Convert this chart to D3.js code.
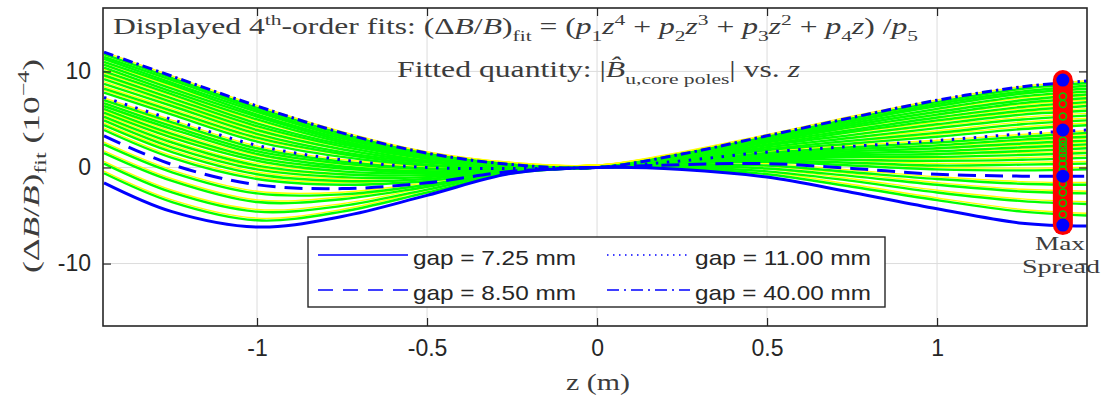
<!DOCTYPE html>
<html><head><meta charset="utf-8">
<script src="https://cdn.jsdelivr.net/npm/d3@7"></script>
<style>
html,body{margin:0;padding:0;background:#fff;}
svg{display:block;}
</style></head>
<body><svg id="c" width="1104" height="402"></svg>
<script>
// ---------- data ----------
const zSamples = [-1.45, -1.25, -1.0, -0.75, -0.5, -0.25, 0, 0.25, 0.5, 0.75, 1.0, 1.25, 1.44];
const xTicks = [-1, -0.5, 0, 0.5, 1];
const xTickLabels = ["-1", "-0.5", "0", "0.5", "1"];
const yTicks = [-10, 0, 10];
const yTickLabels = ["-10", "0", "10"];

const highlightGaps = ["7.25", "8.50", "11.00", "40.00"];
const gap725 = [-1.6, -4.6, -6.2, -5.1, -2.9, -0.6, 0, -0.2, -1.0, -2.6, -4.3, -5.8, -6.1];
const gap850 = [3.3, 0.3, -1.8, -2.2, -1.6, -0.4, 0, 0.3, 0.4, -0.1, -0.7, -0.9, -0.9];
const gap1100 = [7.3, 5.0, 2.3, 0.8, 0.0, -0.1, 0, 0.7, 1.6, 2.2, 2.8, 3.5, 3.9];
const gap4000 = [12.0, 9.5, 6.4, 3.6, 1.5, 0.3, 0, 1.4, 3.3, 5.2, 7.0, 8.4, 9.0];

// other gaps of the family (green fits)
const familyCurves = [
  [-0.6, -3.6, -5.5, -4.6, -2.6, -0.6, 0, -0.1, -0.7, -2.0, -3.4, -4.6, -5.0],
  [0.4, -2.6, -4.6, -4.0, -2.3, -0.5, 0, 0.0, -0.4, -1.4, -2.6, -3.5, -3.8],
  [1.5, -1.4, -3.6, -3.3, -2.0, -0.5, 0, 0.1, -0.1, -0.9, -1.8, -2.5, -2.7],
  [2.4, -0.5, -2.7, -2.8, -1.8, -0.4, 0, 0.2, 0.2, -0.5, -1.2, -1.7, -1.8],
  [3.9, 1.0, -1.2, -1.8, -1.4, -0.4, 0, 0.4, 0.6, 0.2, -0.2, -0.3, -0.2],
  [4.4, 1.6, -0.7, -1.4, -1.2, -0.3, 0, 0.4, 0.7, 0.5, 0.2, 0.3, 0.4],
  [4.9, 2.1, -0.2, -1.0, -1.0, -0.3, 0, 0.5, 0.9, 0.8, 0.7, 0.8, 1.0],
  [5.3, 2.6, 0.2, -0.7, -0.8, -0.3, 0, 0.5, 1.0, 1.1, 1.1, 1.3, 1.5],
  [5.7, 3.1, 0.7, -0.4, -0.6, -0.2, 0, 0.5, 1.1, 1.3, 1.4, 1.7, 2.0],
  [6.1, 3.5, 1.0, -0.1, -0.5, -0.2, 0, 0.6, 1.2, 1.5, 1.7, 2.1, 2.4],
  [6.4, 4.0, 1.4, 0.1, -0.4, -0.2, 0, 0.6, 1.3, 1.7, 2.0, 2.5, 2.8],
  [6.7, 4.3, 1.7, 0.4, -0.2, -0.1, 0, 0.6, 1.4, 1.9, 2.3, 2.9, 3.2],
  [7.0, 4.7, 2.0, 0.6, -0.1, -0.1, 0, 0.7, 1.5, 2.1, 2.6, 3.2, 3.6],
  [7.8, 5.5, 2.7, 1.1, 0.2, -0.1, 0, 0.8, 1.8, 2.5, 3.2, 4.0, 4.4],
  [8.2, 5.9, 3.1, 1.4, 0.3, 0.0, 0, 0.8, 1.9, 2.8, 3.6, 4.5, 4.9],
  [8.7, 6.4, 3.5, 1.6, 0.5, 0.0, 0, 0.9, 2.1, 3.1, 4.1, 5.0, 5.4],
  [9.2, 6.8, 3.9, 1.9, 0.6, 0.1, 0, 1.0, 2.3, 3.4, 4.5, 5.5, 5.9],
  [9.6, 7.2, 4.3, 2.2, 0.7, 0.1, 0, 1.0, 2.4, 3.7, 4.9, 5.9, 6.4],
  [10.0, 7.6, 4.6, 2.4, 0.9, 0.1, 0, 1.1, 2.6, 3.9, 5.2, 6.3, 6.8],
  [10.4, 7.9, 5.0, 2.6, 1.0, 0.2, 0, 1.2, 2.7, 4.2, 5.5, 6.7, 7.2],
  [10.7, 8.2, 5.3, 2.8, 1.1, 0.2, 0, 1.2, 2.8, 4.4, 5.8, 7.0, 7.6],
  [11.0, 8.6, 5.5, 3.0, 1.2, 0.2, 0, 1.3, 2.9, 4.6, 6.1, 7.4, 7.9],
  [11.3, 8.8, 5.8, 3.2, 1.3, 0.2, 0, 1.3, 3.0, 4.8, 6.4, 7.7, 8.2],
  [11.5, 9.1, 6.0, 3.3, 1.4, 0.3, 0, 1.3, 3.1, 4.9, 6.6, 7.9, 8.5],
  [11.8, 9.3, 6.2, 3.5, 1.4, 0.3, 0, 1.4, 3.2, 5.1, 6.8, 8.2, 8.8]
];

const spreadZ = 1.37;
const spreadValues = [9.1, 3.9, -0.9, -6.0];
const spreadFamily = [-4.9, -3.7, -2.6, -1.7, -0.2, 0.4, 1.0, 1.5, 2.0, 2.4, 2.8, 5.3, 6.6, 7.4];

// ---------- layout ----------
const svg = d3.select("#c");
const L = 103, R = 1087, T = 8, B = 326;
const x = d3.scaleLinear().domain([-1.453, 1.441]).range([L, R]);
const y = d3.scaleLinear().domain([-16.5, 16.6]).range([B, T]);
const serif = "'Liberation Serif', 'DejaVu Serif', serif";
const sans = "'Liberation Sans', Arial, sans-serif";
const txt = "#262626";
const stxt = "#3c3c3c";

svg.append("rect").attr("width", 1104).attr("height", 402).attr("fill", "#fff");
svg.append("defs").append("clipPath").attr("id", "clip")
  .append("rect").attr("x", L).attr("y", T).attr("width", R - L).attr("height", B - T);

// grid
const grid = svg.append("g").attr("stroke", "#dcdcdc").attr("stroke-width", 1);
xTicks.forEach(v => grid.append("line").attr("x1", x(v)).attr("x2", x(v)).attr("y1", T).attr("y2", B));
yTicks.forEach(v => grid.append("line").attr("y1", y(v)).attr("y2", y(v)).attr("x1", L).attr("x2", R));

// curves
const line = d3.line().x((d, i) => x(zSamples[i])).y(d => y(d)).curve(d3.curveCatmullRom.alpha(0.5));
const plot = svg.append("g").attr("clip-path", "url(#clip)");
familyCurves.forEach(c => plot.append("path").attr("d", line(c)).attr("fill", "none")
  .attr("stroke", "#ffff00").attr("stroke-width", 1.4).attr("transform", "translate(0,-2.2)"));
familyCurves.forEach(c => plot.append("path").attr("d", line(c)).attr("fill", "none")
  .attr("stroke", "#00ff00").attr("stroke-width", 2.4));

const styles = [
  {data: gap725, dash: null},
  {data: gap850, dash: "18,9"},
  {data: gap1100, dash: "2.5,8.5"},
  {data: gap4000, dash: "10,4,2.5,4"}
];
styles.forEach(s => plot.append("path").attr("d", line(s.data)).attr("fill", "none")
  .attr("stroke", "#0000ff").attr("stroke-width", 3).attr("stroke-dasharray", s.dash));

// max spread marker
const sx = x(spreadZ);
svg.append("line").attr("x1", sx).attr("x2", sx)
  .attr("y1", y(d3.max(spreadValues))).attr("y2", y(d3.min(spreadValues)))
  .attr("stroke", "#ff0000").attr("stroke-width", 20).attr("stroke-linecap", "round");
spreadFamily.forEach(v => svg.append("circle").attr("cx", sx).attr("cy", y(v)).attr("r", 3.5)
  .attr("fill", "none").attr("stroke", "#00cc00").attr("stroke-width", 1.5));
spreadValues.forEach(v => svg.append("circle").attr("cx", sx).attr("cy", y(v)).attr("r", 6.5)
  .attr("fill", "#0000ff"));
svg.append("text").attr("x", 1060).attr("y", 250).attr("font-family", serif).attr("font-size", 19)
  .attr("fill", stxt).attr("text-anchor", "middle").attr("textLength", 50)
  .attr("lengthAdjust", "spacingAndGlyphs").text("Max");
svg.append("text").attr("x", 1061).attr("y", 273).attr("font-family", serif).attr("font-size", 19)
  .attr("fill", stxt).attr("text-anchor", "middle").attr("textLength", 78)
  .attr("lengthAdjust", "spacingAndGlyphs").text("Spread");

// axes
const ax = svg.append("g").attr("font-family", sans);
const xb = ax.append("g").attr("transform", `translate(0,${B})`)
  .call(d3.axisBottom(x).tickValues(xTicks).tickSize(-8).tickPadding(14).tickFormat((d, i) => xTickLabels[i]));
const xt = ax.append("g").attr("transform", `translate(0,${T})`)
  .call(d3.axisTop(x).tickValues(xTicks).tickSize(-8).tickFormat(""));
const yl = ax.append("g").attr("transform", `translate(${L},0)`)
  .call(d3.axisLeft(y).tickValues(yTicks).tickSize(-8).tickPadding(12).tickFormat((d, i) => yTickLabels[i]));
const yr = ax.append("g").attr("transform", `translate(${R},0)`)
  .call(d3.axisRight(y).tickValues(yTicks).tickSize(-8).tickFormat(""));
[xb, xt, yl, yr].forEach(g => {
  g.select(".domain").remove();
  g.selectAll(".tick line").attr("stroke", txt).attr("stroke-width", 1.2);
  g.selectAll("text").attr("font-size", 23).attr("fill", txt).attr("font-family", sans);
});
svg.append("rect").attr("x", L).attr("y", T).attr("width", R - L).attr("height", B - T)
  .attr("fill", "none").attr("stroke", txt).attr("stroke-width", 1.6);

// rich text helper
function rich(sel, segs, base) {
  let cur = 0;
  segs.forEach(s => {
    const [t, p, it] = s;
    const off = p === "sub" ? 0.3 * base : p === "sup" ? -0.4 * base : 0;
    const ts = sel.append("tspan").text(t).attr("dy", off - cur);
    cur = off;
    if (p === "sub" || p === "sup") ts.attr("font-size", base * 0.68);
    if (it) ts.attr("font-style", "italic");
  });
}

// title
const t1 = svg.append("text").attr("x", 113).attr("y", 34).attr("font-family", serif)
  .attr("font-size", 23).attr("fill", stxt).attr("textLength", 805).attr("lengthAdjust", "spacingAndGlyphs");
rich(t1, [["Displayed 4"], ["th", "sup"], ["-order fits:  (Δ"], ["B", 0, 1], ["/"], ["B", 0, 1], [")"],
  ["fit", "sub"], [" = ("], ["p", 0, 1], ["1", "sub"], ["z", 0, 1], ["4", "sup"], [" + "], ["p", 0, 1], ["2", "sub"],
  ["z", 0, 1], ["3", "sup"], [" + "], ["p", 0, 1], ["3", "sub"], ["z", 0, 1], ["2", "sup"], [" + "], ["p", 0, 1],
  ["4", "sub"], ["z", 0, 1], [") /"], ["p", 0, 1], ["5", "sub"]], 23);
const t2 = svg.append("text").attr("x", 397).attr("y", 77).attr("font-family", serif)
  .attr("font-size", 23).attr("fill", stxt).attr("textLength", 403).attr("lengthAdjust", "spacingAndGlyphs");
rich(t2, [["Fitted quantity:  |"], ["B\u0302", 0, 1], ["u,core poles", "sub"], ["|  vs. "], ["z", 0, 1]], 23);

// axis titles
const xlab = svg.append("text").attr("x", 566).attr("y", 390).attr("font-family", serif)
  .attr("font-size", 24).attr("fill", stxt).attr("textLength", 64).attr("lengthAdjust", "spacingAndGlyphs");
rich(xlab, [["z (m)"]], 24);
const ylab = svg.append("text").attr("transform", "translate(39,273) rotate(-90)").attr("font-family", serif)
  .attr("font-size", 24).attr("fill", stxt).attr("textLength", 214).attr("lengthAdjust", "spacingAndGlyphs");
rich(ylab, [["(Δ"], ["B", 0, 1], ["/"], ["B", 0, 1], [")"], ["fit", "sub"], [" (10"], ["−4", "sup"], [")"]], 24);

// legend
const lg = svg.append("g");
lg.append("rect").attr("x", 308).attr("y", 237).attr("width", 577).attr("height", 70)
  .attr("fill", "#fff").attr("stroke", txt).attr("stroke-width", 1.4);
const legendItems = [
  {x1: 318, x2: 408, ty: 255, dash: null, label: highlightGaps[0], w: 163},
  {x1: 318, x2: 408, ty: 290, dash: "15,10", label: highlightGaps[1], w: 163},
  {x1: 607, x2: 690, ty: 255, dash: "1.5,4.5", label: highlightGaps[2], w: 176},
  {x1: 607, x2: 690, ty: 290, dash: "12,5,2,5", label: highlightGaps[3], w: 176}
];
legendItems.forEach(it => {
  lg.append("line").attr("x1", it.x1).attr("x2", it.x2).attr("y1", it.ty).attr("y2", it.ty)
    .attr("stroke", "#0000ff").attr("stroke-width", 1.6).attr("stroke-dasharray", it.dash);
  lg.append("text").attr("x", it.x2 + 5).attr("y", it.ty + 10).attr("font-family", sans)
    .attr("font-size", 21).attr("fill", txt).attr("textLength", it.w).attr("lengthAdjust", "spacingAndGlyphs")
    .text(`gap = ${it.label} mm`);
});
</script></body></html>
